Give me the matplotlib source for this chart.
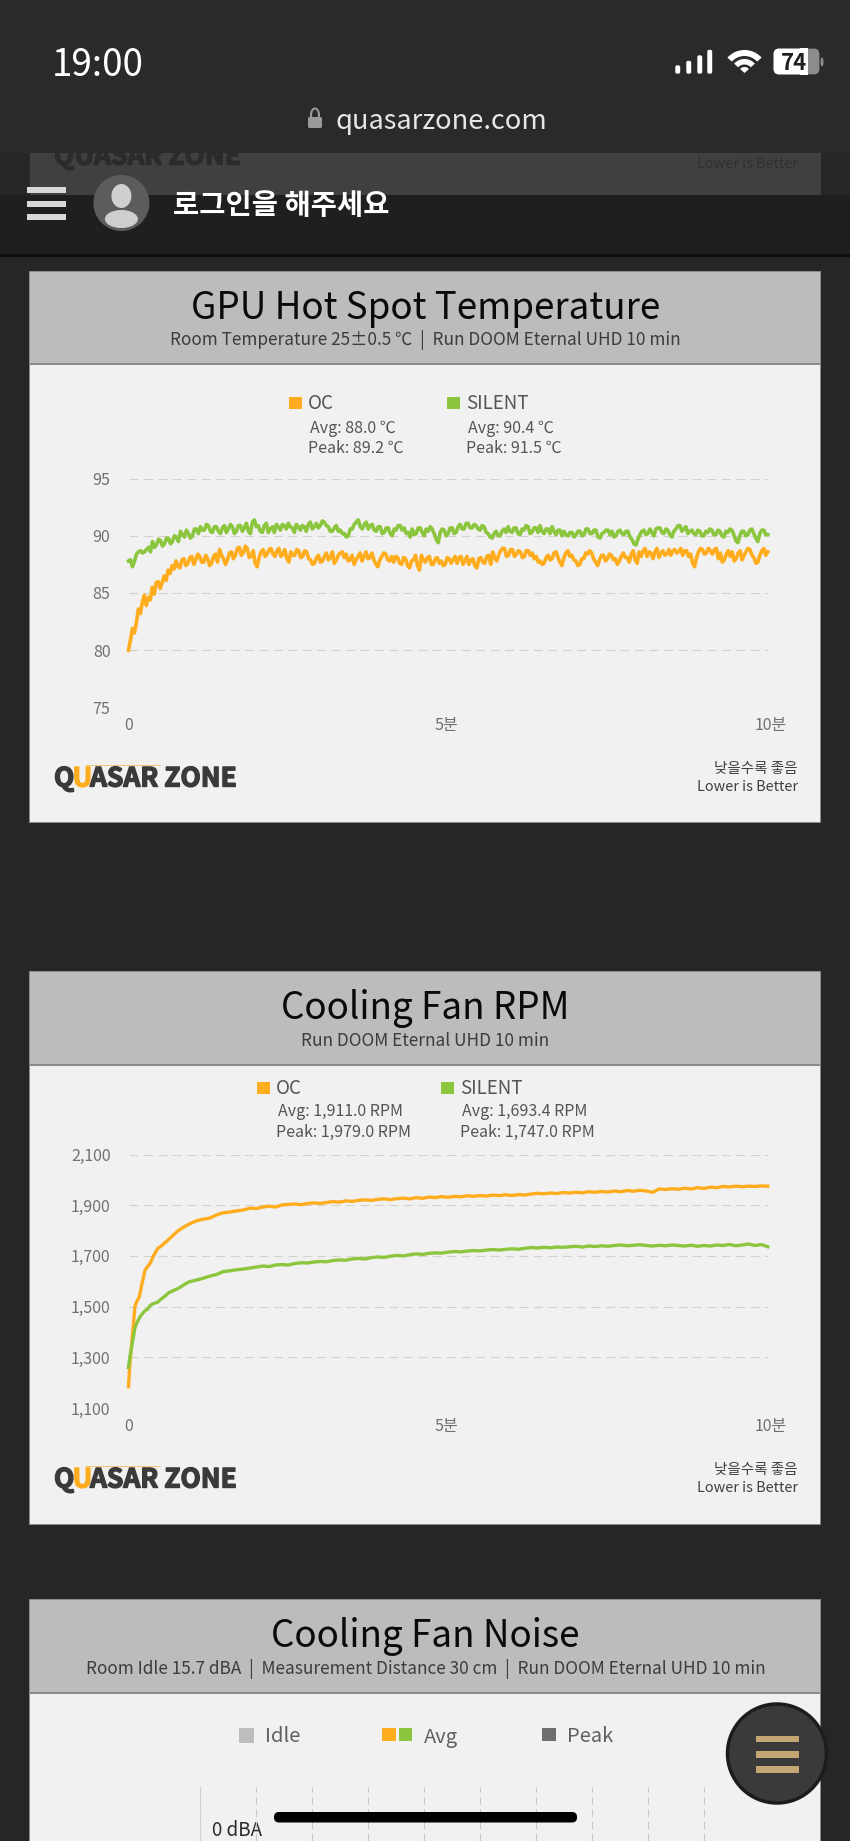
import numpy as np
import matplotlib
matplotlib.use('Agg')
import matplotlib.pyplot as plt
import matplotlib.patheffects as pe
from matplotlib.patches import Rectangle, Ellipse, Circle, FancyBboxPatch, Wedge
from matplotlib.transforms import ScaledTranslation

plt.rcParams['font.family'] = ['Noto Sans CJK KR', 'DejaVu Sans']

W, H = 850, 1841
ORANGE = '#ffad1f'
GREEN = '#8cc63f'

# temperature traces
temp_oc = [80.0, 80.9, 81.9, 81.5, 82.4, 83.6, 83.2, 84.2, 84.8, 83.9, 84.6, 84.4, 85.5, 84.9, 85.9, 86.0, 85.4, 85.9, 86.5, 86.1,
           87.0, 86.7, 87.4, 87.1, 87.8, 87.3, 87.2, 87.9, 88.0, 87.4, 87.6, 88.1, 88.2, 87.5, 87.9, 88.4, 88.2, 87.7, 87.7, 88.3,
           88.0, 87.4, 87.6, 88.2, 88.4, 87.7, 88.8, 88.3, 88.0, 87.5, 87.9, 88.5, 88.6, 88.0, 88.3, 88.9, 89.0, 88.3, 88.5, 89.1,
           88.9, 88.1, 88.2, 88.7, 87.6, 87.3, 88.1, 88.6, 88.8, 88.2, 88.4, 88.8, 88.9, 88.4, 88.2, 88.7, 88.9, 88.2, 88.4, 88.8,
           88.0, 87.7, 88.6, 88.3,
           88.3, 88.8, 88.7, 88.1, 88.2, 88.7, 88.6, 88.0, 87.9, 87.5, 87.6, 88.1, 88.3, 87.7, 87.8, 88.2, 88.5, 87.9, 88.1, 88.6,
           87.6, 87.9, 88.3, 88.5, 88.6, 88.1, 88.4, 87.8, 87.9, 88.3, 87.5, 87.9, 88.2, 88.5, 87.8, 88.2, 88.6, 88.0, 88.1, 88.5,
           87.9, 87.5, 87.3, 87.9, 88.2, 88.5, 88.4, 87.9, 87.8, 88.2, 87.7, 88.2, 88.1, 87.6, 87.5, 88.1, 88.0, 87.4, 87.2, 87.8,
           87.9, 88.3, 87.4, 87.0, 88.3, 87.9, 87.7, 88.1, 88.2, 87.5, 87.5, 88.0, 88.1, 87.6, 87.8, 87.4, 87.5, 88.1, 88.0, 87.6,
           87.9, 88.2, 87.6, 88.1, 88.2, 87.5, 87.8, 88.2, 87.5, 87.9, 88.0, 87.4, 87.2, 88.0, 88.1, 87.7, 87.6, 88.2, 88.3, 87.5,
           88.6, 88.1, 87.8, 88.3, 88.7, 88.9, 88.9, 88.2, 88.3, 88.8, 88.8, 88.2, 88.4, 88.7, 88.6, 88.1, 88.2, 88.7, 88.7, 88.3,
           88.5, 88.0, 88.2, 87.7, 87.8, 87.5, 87.6, 88.1, 88.3, 87.9, 88.0, 88.5, 88.6, 88.1, 87.7, 87.4, 88.1, 88.5, 88.7, 88.2,
           88.3, 87.9, 87.8, 87.4, 87.5, 88.0, 88.0, 88.5, 88.4, 88.7, 88.5, 88.0, 87.7, 87.4, 87.9, 88.3, 88.3, 87.8, 88.0, 88.4,
           88.3, 87.9, 88.0, 87.5, 87.8, 88.2, 88.5, 88.1, 88.1, 87.7, 88.4, 88.7, 87.9, 87.6, 88.6, 88.2, 88.7, 88.9, 88.2, 88.6,
           88.5, 88.0, 88.6, 88.9, 88.1, 88.5, 88.7, 88.3, 88.4, 88.8, 88.3, 88.7, 88.8, 88.5, 88.6, 88.9, 88.3, 88.7, 88.7, 88.2,
           88.4, 87.6, 87.3, 88.1, 88.6, 88.9, 88.8, 88.4, 88.5, 88.9, 88.7, 88.4, 88.8, 88.9, 88.0, 88.5, 87.7, 87.9, 88.4, 88.7,
           88.2, 88.6, 87.8, 88.0, 88.5, 88.7, 87.9, 88.3, 88.6, 88.9, 88.8, 88.3, 88.1, 87.6, 87.7, 88.3, 88.7, 88.9, 88.3, 88.6]
temp_silent = [87.8, 87.9, 87.3, 87.8, 88.4, 88.6, 88.7, 88.5, 88.6, 88.8, 89.0, 88.6, 89.5, 89.0, 89.2, 89.7, 89.6, 89.1, 89.3, 89.8,
               89.8, 89.3, 89.5, 90.0, 89.9, 89.5, 90.4, 90.1, 89.9, 90.5, 90.2, 89.8, 90.0, 90.6, 90.6, 90.2, 90.8, 90.5, 90.5, 91.0,
               90.9, 90.4, 90.3, 90.8, 90.8, 90.4, 90.2, 90.7, 90.9, 90.3, 90.6, 91.0, 90.8, 90.2, 90.4, 90.9, 90.9, 90.4, 90.7, 91.1,
               90.4, 90.2, 91.2, 91.4, 90.8, 90.9, 90.4, 90.3, 90.9, 91.1, 90.3, 90.6, 90.8, 90.3, 91.0, 90.8, 90.5, 91.0, 90.9, 90.6,
               91.1, 90.8,
               90.7, 90.3, 91.0, 90.8, 90.5, 90.9, 90.8, 90.4, 91.0, 91.2, 90.6, 90.8, 91.1, 90.7, 90.9, 91.3, 91.2, 90.9, 90.8, 90.4,
               90.4, 90.7, 90.9, 90.4, 90.5, 90.2, 90.2, 89.9, 90.0, 90.6, 90.6, 91.0, 91.2, 91.4, 90.8, 90.6, 91.0, 91.2, 90.6, 90.9,
               91.0, 90.5, 90.4, 90.8, 90.8, 90.2, 90.3, 90.7, 90.7, 90.2, 90.0, 90.6, 90.5, 90.9, 90.9, 90.5, 90.7, 90.2, 90.3, 89.9,
               90.6, 90.1, 90.2, 90.7, 90.7, 90.3, 90.0, 90.6, 90.4, 90.8, 90.6, 90.2, 89.7, 89.4, 90.3, 90.6, 90.5, 90.0, 90.2, 90.7,
               90.7, 90.2, 90.3, 90.8, 91.0, 90.6, 90.6, 91.1, 91.1, 90.7, 90.7, 91.0, 90.9, 90.6, 90.5, 90.9, 90.8, 90.3, 90.2, 89.9,
               89.8, 90.2, 90.4, 90.0, 90.0, 90.4, 90.6, 90.3, 90.8, 90.4, 90.3, 90.7, 90.7, 90.2, 90.1, 90.6, 90.5, 90.9, 90.8, 90.2,
               90.3, 90.7, 90.7, 90.3, 90.9, 90.4, 90.2, 90.6, 90.6, 90.2, 90.8, 90.4, 90.1, 90.5, 90.5, 90.0, 90.4, 90.1, 90.0, 90.3,
               90.3, 89.9, 90.1, 90.4, 90.4, 90.0, 90.1, 90.6, 90.6, 90.2, 90.2, 90.5, 90.5, 89.9, 89.8, 90.2, 90.3, 90.5, 90.5, 90.1,
               90.4, 89.9, 90.0, 90.4, 90.5, 90.2, 90.1, 90.4, 90.4, 89.9, 89.7, 89.3, 89.2, 89.7, 90.1, 90.4, 90.5, 90.1, 90.2, 90.6,
               90.3, 90.0, 90.6, 90.7, 90.7, 90.3, 90.2, 90.6, 90.5, 90.1, 89.9, 90.4, 90.6, 90.9, 90.9, 90.4, 90.6, 90.8, 90.2, 90.4,
               90.5, 90.2, 90.1, 90.5, 90.4, 90.0, 90.0, 90.4, 90.3, 90.6, 90.5, 90.1, 90.1, 90.5, 90.4, 90.0, 89.9, 90.4, 90.3, 90.6,
               90.5, 90.1, 89.6, 89.4, 90.0, 90.4, 90.4, 90.0, 90.1, 90.5, 90.6, 90.2, 89.8, 89.5, 90.2, 90.5, 90.5, 90.1, 90.1]

# fan traces: the start is read more finely than the rest
rpm_time_early = [0, .02, .05, .08, .10, .13, .17, .21, .26, .30, .34, .39, .46, .51, .57, .63, .70, .78, .86, .95,
                  1.07, 1.17, 1.27, 1.38, 1.48, 1.58, 1.68, 1.79]
rpm_oc_early = [1184, 1270, 1356, 1440, 1500, 1520, 1539, 1590, 1644, 1658, 1671, 1700, 1730, 1738, 1752, 1765, 1782, 1800, 1813, 1826,
                1839, 1845, 1849, 1862, 1870, 1873, 1877, 1881]
rpm_silent_early = [1260, 1300, 1342, 1385, 1415, 1435, 1455, 1470, 1484, 1490, 1505, 1512, 1518, 1530, 1541, 1555, 1563, 1572, 1585, 1598,
                    1605, 1612, 1620, 1627, 1638, 1641, 1645, 1648]
rpm_oc_tail = [1888, 1887, 1893, 1896, 1893, 1901, 1903, 1905, 1902, 1907, 1909, 1907, 1911, 1914, 1912, 1917, 1915, 1919, 1921, 1919,
               1923, 1925, 1922, 1926, 1928, 1925, 1930, 1927, 1932, 1930, 1934, 1931, 1935, 1933, 1937, 1935, 1938, 1936, 1940, 1938,
               1941, 1938, 1942, 1940, 1944, 1947, 1945, 1948, 1946, 1950, 1948, 1951, 1949, 1953, 1951, 1954, 1952, 1956, 1953, 1958,
               1955, 1959, 1956, 1951, 1964, 1962, 1965, 1963, 1967, 1964, 1969, 1966, 1971, 1969, 1974, 1972, 1975, 1973, 1975, 1974, 1976, 1975]
rpm_silent_tail = [1652, 1656, 1660, 1658, 1664, 1666, 1664, 1670, 1673, 1672, 1676, 1678, 1677, 1682, 1684, 1683, 1688, 1690, 1688, 1693,
                   1696, 1694, 1699, 1702, 1700, 1705, 1708, 1706, 1710, 1712, 1711, 1715, 1717, 1716, 1719, 1721, 1720, 1723, 1725, 1723,
                   1726, 1728, 1726, 1730, 1733, 1731, 1734, 1732, 1735, 1734, 1736, 1738, 1735, 1739, 1737, 1740, 1738, 1741, 1743, 1740,
                   1742, 1744, 1741, 1739, 1742, 1740, 1743, 1741, 1739, 1742, 1738, 1741, 1739, 1743, 1741, 1745, 1740, 1743, 1747, 1741, 1745, 1736]

temp_ticks = [75, 80, 85, 90, 95]
rpm_ticks = [1100, 1300, 1500, 1700, 1900, 2100]
time_ticks = [0, 5, 10]
time_labels = ['0', '5분', '10분']


fig = plt.figure(figsize=(W / 100, H / 100), dpi=100, facecolor='#262626')


def add_px_axes(left, top, right, bottom, zorder):
    return fig.add_axes([left / W, 1 - bottom / H, (right - left) / W, (bottom - top) / H], zorder=zorder)


page = add_px_axes(0, 0, W, H, 0)
page.set_xlim(0, W)
page.set_ylim(H, 0)
page.axis('off')

top = add_px_axes(0, 0, W, H, 10)
top.set_xlim(0, W)
top.set_ylim(H, 0)
top.axis('off')
top.patch.set_alpha(0)


def rect(ax, x0, y0, x1, y1, color, z=1):
    ax.add_patch(Rectangle((x0, y0), x1 - x0, y1 - y0, facecolor=color, edgecolor='none', zorder=z))


def label(ax, x, y, s, size, color='#555555', ha='left', weight='normal', z=5):
    return ax.text(x, y, s, fontsize=size, color=color, ha=ha, va='center', fontweight=weight, zorder=z)


def draw_card(y_top, y_head, y_bottom, title, sub, title_y, sub_y):
    rect(page, 29.5, y_top, 821, y_bottom, '#8a8a8a', 1)
    rect(page, 30.5, y_top + 1, 820, y_head, '#bcbcbc', 2)
    rect(page, 30.5, y_head + 1.5, 820, y_bottom - 1, '#f1f1f1', 2)
    label(page, 425.5, title_y, title, 26.5, '#0a0a0a', 'center')
    label(page, 425.5, sub_y, sub, 12.4, '#3c3c3c', 'center')


def logo_piece(x, y, s, color):
    t = label(page, x, y, s, 19, color, weight='bold')
    t.set_path_effects([pe.withStroke(linewidth=1.0, foreground=color)])


def draw_logo(y):
    logo_piece(54, y, 'Q', '#3a3a3a')
    logo_piece(72.5, y, 'U', ORANGE)
    logo_piece(90, y, 'ASAR ZONE', '#3a3a3a')
    rect(page, 86, y - 14, 161, y - 13, '#f4c67c', 3)


def draw_legend(x_oc, x_si, y0, y1, y2, oc_lines, si_lines):
    for x, col, name, lines in [(x_oc, ORANGE, 'OC', oc_lines), (x_si, GREEN, 'SILENT', si_lines)]:
        rect(page, x, y0 - 6, x + 13, y0 + 6, col, 3)
        label(page, x + 19, y0, name, 13.5, '#555555')
        label(page, x + 21, y1, lines[0], 11.5, '#555555')
        label(page, x + 19.5, y2, lines[1], 11.5, '#555555')


def draw_chart(y_top, y_bottom, t1, s1, t2, s2, ticks, ticklabels, lw):
    ax = add_px_axes(128.5, y_top, 767.8, y_bottom, 3)
    ax.patch.set_alpha(0)
    ax.set_xlim(0, 10)
    ax.set_ylim(ticks[0], ticks[-1])
    for sp in ax.spines.values():
        sp.set_visible(False)
    ax.set_yticks(ticks)
    ax.set_yticklabels(ticklabels)
    ax.set_xticks(time_ticks)
    ax.set_xticklabels(time_labels)
    ax.tick_params(axis='y', length=0, pad=13, labelsize=11.5, labelcolor='#707070')
    ax.tick_params(axis='x', length=0, pad=7, labelsize=11.5, labelcolor='#707070')
    # 5분 and 10분 sit a little off their ticks in the original
    for tl, dx in zip(ax.get_xticklabels(), [0, -2, 3]):
        tl.set_transform(tl.get_transform() + ScaledTranslation(dx / 100, 0, fig.dpi_scale_trans))
    ax.grid(axis='y', color='#d2d2cc', lw=0.8, linestyle=(0, (8, 5)))
    ax.set_axisbelow(True)
    ax.plot(t1, s1, color=ORANGE, lw=lw, clip_on=False, solid_joinstyle='round')
    ax.plot(t2, s2, color=GREEN, lw=lw, clip_on=False, solid_joinstyle='round')


# page behind the browser bars
rect(page, 30, 140, 821, 195, '#404040', 1)
logo_piece(54, 157, 'QUASAR ZONE', '#2b2b2b')
label(page, 798, 164, 'Lower is Better', 10.4, '#303030', 'right', z=2)
rect(page, 0, 195, W, 255, '#1f1f1f', 3)
rect(page, 0, 254, W, 256.5, '#0e0e0e', 3)
rect(page, 0, 0, W, 153, '#2a2a28', 6)

# status bar
label(page, 52, 65.5, '19:00', 26.5, '#ffffff', weight='medium', z=7)
for x, y in zip([675, 686, 697, 707], [66, 61.5, 56, 50.5]):
    page.add_patch(FancyBboxPatch((x + 1, y), 3.5, 73 - y, boxstyle='round,pad=0,rounding_size=1.2', fc='white', ec='white', lw=1, zorder=7))
for r0, r1 in [(17, 23), (8.5, 14)]:
    page.add_patch(Wedge((744.5, 73), r1, 222, 318, width=r1 - r0, fc='white', ec='none', zorder=7))
page.add_patch(Wedge((744.5, 73), 6, 222, 318, fc='white', ec='none', zorder=7))
page.add_patch(FancyBboxPatch((775, 50), 43, 23, boxstyle='round,pad=0,rounding_size=4', fc='#8c8c8c', ec='#8c8c8c', lw=2, zorder=7))
page.add_patch(FancyBboxPatch((775, 50), 31, 23, boxstyle='round,pad=0,rounding_size=4', fc='white', ec='white', lw=2, zorder=7))
rect(page, 800, 48, 808, 75, 'white', 7)
page.add_patch(Ellipse((822, 62), 3, 9, fc='#8c8c8c', ec='none', zorder=7))
label(page, 794, 63, '74', 16, '#1f1f1f', 'center', weight='bold', z=8)

# address bar
page.add_patch(FancyBboxPatch((308, 117), 14, 11, boxstyle='round,pad=0,rounding_size=1.5', fc='#9a9a9a', ec='none', zorder=7))
page.add_patch(Ellipse((315, 115), 8, 13, fc='none', ec='#9a9a9a', lw=1.5, zorder=7))
label(page, 336, 121, 'quasarzone.com', 19.6, '#e6e6e6', z=7)

# site header
for y in [190, 203.5, 216.5]:
    rect(page, 27, y - 3, 66, y + 3, '#d8d8d8', 5)
page.add_patch(Ellipse((121.4, 203), 56, 56, fc='#5c5c5c', ec='none', zorder=5))
page.add_patch(Ellipse((121.4, 196), 20, 24, fc='#cfcfcf', ec='none', zorder=6))
page.add_patch(Ellipse((121.4, 219), 33, 18, fc='#cfcfcf', ec='none', zorder=6))
label(page, 173, 206, '로그인을 해주세요', 20.5, '#ffffff', weight='bold')

# chart 1
draw_card(270.5, 363, 823, 'GPU Hot Spot Temperature', 'Room Temperature 25±0.5 ℃  |  Run DOOM Eternal UHD 10 min', 308, 340)
draw_legend(289, 447, 403, 428, 448, ['Avg: 88.0 ℃', 'Peak: 89.2 ℃'], ['Avg: 90.4 ℃', 'Peak: 91.5 ℃'])
draw_chart(478.7, 707.3, np.linspace(0, 10, len(temp_oc)), temp_oc, np.linspace(0, 10, len(temp_silent)), temp_silent,
           temp_ticks, [str(v) for v in temp_ticks], 2.6)
draw_logo(779)
label(page, 798, 769, '낮을수록 좋음', 10.5, '#404040', 'right')
label(page, 798, 787, 'Lower is Better', 10.4, '#404040', 'right')

# chart 2
draw_card(971, 1064, 1524.5, 'Cooling Fan RPM', 'Run DOOM Eternal UHD 10 min', 1008, 1041)
draw_legend(257, 441, 1088, 1111, 1132, ['Avg: 1,911.0 RPM', 'Peak: 1,979.0 RPM'], ['Avg: 1,693.4 RPM', 'Peak: 1,747.0 RPM'])
rpm_time_oc = np.concatenate([rpm_time_early, np.linspace(1.9, 10, len(rpm_oc_tail))])
rpm_time_silent = np.concatenate([rpm_time_early, np.linspace(1.9, 10, len(rpm_silent_tail))])
draw_chart(1154.5, 1408, rpm_time_oc, rpm_oc_early + rpm_oc_tail, rpm_time_silent, rpm_silent_early + rpm_silent_tail,
           rpm_ticks, [f'{v:,}' for v in rpm_ticks], 2.4)
draw_logo(1480)
label(page, 798, 1470, '낮을수록 좋음', 10.5, '#404040', 'right')
label(page, 798, 1487.5, 'Lower is Better', 10.4, '#404040', 'right')

# chart 3, cut off by the screen edge
draw_card(1599, 1692, 1900, 'Cooling Fan Noise', 'Room Idle 15.7 dBA  |  Measurement Distance 30 cm  |  Run DOOM Eternal UHD 10 min', 1637, 1669)
rect(page, 239, 1728, 254, 1743, '#bdbdbd', 3)
label(page, 265.5, 1737, 'Idle', 14.5, '#606060')
rect(page, 382, 1728, 396, 1741, ORANGE, 3)
rect(page, 399, 1728, 412.5, 1741, GREEN, 3)
label(page, 424, 1737, 'Avg', 14.5, '#606060')
rect(page, 542.5, 1728, 556.5, 1741, '#6e6e6e', 3)
label(page, 567.5, 1736, 'Peak', 14.5, '#606060')
ax3 = add_px_axes(199.5, 1786.7, 760.5, H, 3)
ax3.patch.set_alpha(0)
ax3.set_xlim(0, 10)
ax3.set_xticks(range(11))
ax3.set_yticks([])
ax3.tick_params(length=0, labelbottom=False)
for name, sp in ax3.spines.items():
    sp.set_visible(name == 'left')
ax3.spines['left'].set_color('#cfcfcf')
ax3.grid(axis='x', color='#c8c8c8', lw=0.8, linestyle=(0, (7, 4)))
ax3.set_axisbelow(True)
label(page, 212, 1830, '0 dBA', 13.5, '#2a2a2a')

# floating button and home bar
top.add_patch(Circle((777, 1753.5), 49.5, fc='#3a3a3a', ec='#1c1c1c', lw=2.5, zorder=5))
for y in [1739, 1754.3, 1769.3]:
    rect(top, 756, y - 3.2, 799.5, y + 3.2, '#c4a574', 6)
top.add_patch(FancyBboxPatch((274, 1812), 303, 10.5, boxstyle='round,pad=0,rounding_size=5', fc='black', ec='none', zorder=6))

fig.savefig('out.png', dpi=100, facecolor=fig.get_facecolor())
